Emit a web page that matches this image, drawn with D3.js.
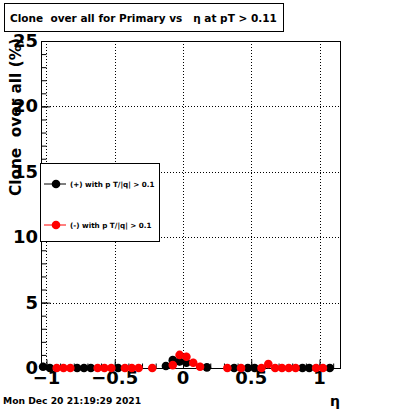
<!DOCTYPE html>
<html>
<head>
<meta charset="utf-8">
<script src="https://cdn.jsdelivr.net/npm/d3@7"></script>
<style>
body { margin: 0; background: #fff; }
text { font-family: "DejaVu Sans", sans-serif; font-weight: bold; white-space: pre; }
</style>
</head>
<body>
<svg id="chart" width="400" height="409"></svg>
<script>
// eta bin centres and clone fraction (%) for each charge
const plusEta = [-1.025, -0.975, -0.775, -0.725, -0.675, -0.475, -0.125, -0.075, -0.025, 0.025, 0.175, 0.375, 0.475, 0.525, 0.875, 0.925, 1.075];
const plusVal = [0.1, 0, 0, 0, 0, 0, 0.15, 0.6, 0.5, 0.4, 0.05, 0, 0, 0, 0, 0, 0];
const minusEta = [-0.925, -0.875, -0.825, -0.625, -0.575, -0.525, -0.425, -0.375, -0.325, -0.225, -0.075, -0.025, 0.025, 0.075, 0.125, 0.325, 0.425, 0.575, 0.625, 0.675, 0.725, 0.775, 0.825, 0.975, 1.025];
const minusVal = [0, 0, 0, 0, 0, 0, 0, 0, 0, 0, 0.22, 1.0, 0.86, 0.4, 0.1, 0, 0, 0, 0.3, 0, 0, 0, 0, 0, 0];
const xTicks = [-1, -0.5, 0, 0.5, 1];
const yTicks = [0, 5, 10, 15, 20, 25];
const legendLabels = ["(+) with p T/|q| > 0.1", "(-) with p T/|q| > 0.1"];
const titleText = "Clone  over all for Primary vs   \u03b7 at pT > 0.11";
const dateText = "Mon Dec 20 21:19:29 2021";

const svg = d3.select("#chart");
const frame = { left: 41, right: 340, top: 41, bottom: 368 };

const x = d3.scaleLinear([-1.04, 1.15], [frame.left, frame.right]);
const y = d3.scaleLinear([0, 25], [frame.bottom, frame.top]);

// grid
const grid = svg.append("g").attr("stroke", "#000").attr("stroke-dasharray", "1,2");
grid.selectAll("line.gx")
	.data(xTicks)
	.join("line")
	.attr("x1", (d) => Math.round(x(d)) + 0.5)
	.attr("x2", (d) => Math.round(x(d)) + 0.5)
	.attr("y1", frame.top)
	.attr("y2", frame.bottom);
grid.selectAll("line.gy")
	.data(yTicks.slice(1, -1))
	.join("line")
	.attr("y1", (d) => Math.round(y(d)) + 0.5)
	.attr("y2", (d) => Math.round(y(d)) + 0.5)
	.attr("x1", frame.left)
	.attr("x2", frame.right);

// frame
svg.append("rect")
	.attr("x", frame.left + 0.5)
	.attr("y", frame.top + 0.5)
	.attr("width", frame.right - frame.left)
	.attr("height", frame.bottom - frame.top)
	.attr("fill", "none")
	.attr("stroke", "#000");

// y axis: ticks pointing inward
const yAxis = d3.axisRight(y).tickValues(yTicks).tickSize(9).tickFormat("");
svg.append("g").attr("transform", `translate(${frame.left + 0.5},0)`).call(yAxis)
	.call((g) => g.select(".domain").remove());
const yMinor = d3.axisRight(y).tickValues(d3.range(0, 25.01, 1)).tickSize(5).tickFormat("");
svg.append("g").attr("transform", `translate(${frame.left + 0.5},0)`).call(yMinor)
	.call((g) => g.select(".domain").remove());
svg.append("g")
	.selectAll("text")
	.data(yTicks)
	.join("text")
	.attr("x", 38)
	.attr("y", (d) => y(d) + 6)
	.attr("text-anchor", "end")
	.attr("font-size", 18)
	.text((d) => d);

// x axis: ticks pointing up
const xAxis = d3.axisTop(x).tickValues(xTicks).tickSize(9).tickFormat("");
svg.append("g").attr("transform", `translate(0,${frame.bottom + 0.5})`).call(xAxis)
	.call((g) => g.select(".domain").remove());
const xMinor = d3.axisTop(x).tickValues(d3.range(-1, 1.11, 0.1)).tickSize(5).tickFormat("");
svg.append("g").attr("transform", `translate(0,${frame.bottom + 0.5})`).call(xMinor)
	.call((g) => g.select(".domain").remove());
svg.append("g")
	.selectAll("text")
	.data(xTicks)
	.join("text")
	.attr("x", (d) => x(d))
	.attr("y", 384)
	.attr("text-anchor", "middle")
	.attr("font-size", 18)
	.text((d) => d3.format("")(d).replace("-", "\u2212"));

// axis titles
svg.append("text")
	.attr("transform", "translate(21,38) rotate(-90)")
	.attr("text-anchor", "end")
	.attr("font-size", 15.3)
	.text("Clone  over all (%)");
svg.append("text")
	.attr("x", 335)
	.attr("y", 406)
	.attr("text-anchor", "middle")
	.attr("font-size", 14)
	.attr("font-weight", "normal")
	.text("\u03b7");

// series
const series = [
	{ eta: plusEta, val: plusVal, color: "#000" },
	{ eta: minusEta, val: minusVal, color: "#ff0000" }
];
const points = svg.append("g");
series.forEach((s) => {
	const data = s.eta.map((e, i) => ({ eta: e, v: s.val[i] }));
	const g = points.append("g");
	g.selectAll("line.err")
		.data(data)
		.join("line")
		.attr("x1", (d) => x(d.eta - 0.025))
		.attr("x2", (d) => x(d.eta + 0.025))
		.attr("y1", (d) => y(d.v))
		.attr("y2", (d) => y(d.v))
		.attr("stroke", s.color);
	g.selectAll("line.verr")
		.data(data.filter((d) => d.v > 0))
		.join("line")
		.attr("x1", (d) => x(d.eta))
		.attr("x2", (d) => x(d.eta))
		.attr("y1", (d) => y(Math.max(0, d.v - 0.3)))
		.attr("y2", (d) => y(d.v + 0.3))
		.attr("stroke", s.color);
	g.selectAll("circle")
		.data(data)
		.join("circle")
		.attr("cx", (d) => x(d.eta))
		.attr("cy", (d) => y(d.v))
		.attr("r", 4.3)
		.attr("fill", s.color);
});

// legend
const legend = svg.append("g");
legend.append("rect")
	.attr("x", 40.5)
	.attr("y", 163.5)
	.attr("width", 119)
	.attr("height", 78)
	.attr("fill", "#fff")
	.attr("stroke", "#000");
const legendY = [184, 225];
series.forEach((s, i) => {
	legend.append("line")
		.attr("x1", 44)
		.attr("x2", 66)
		.attr("y1", legendY[i])
		.attr("y2", legendY[i])
		.attr("stroke", s.color);
	legend.append("circle")
		.attr("cx", 56)
		.attr("cy", legendY[i])
		.attr("r", 4.3)
		.attr("fill", s.color);
	legend.append("text")
		.attr("x", 70)
		.attr("y", legendY[i] + 2.5)
		.attr("font-size", 7.2)
		.text(legendLabels[i]);
});

// title box
svg.append("rect")
	.attr("x", 4.5)
	.attr("y", 3.5)
	.attr("width", 279)
	.attr("height", 28)
	.attr("fill", "#fff")
	.attr("stroke", "#000");
svg.append("text")
	.attr("x", 10)
	.attr("y", 22)
	.attr("font-size", 10.5)
	.text(titleText);

svg.append("text")
	.attr("x", 3)
	.attr("y", 404)
	.attr("font-size", 9.2)
	.text(dateText);
</script>
</body>
</html>
